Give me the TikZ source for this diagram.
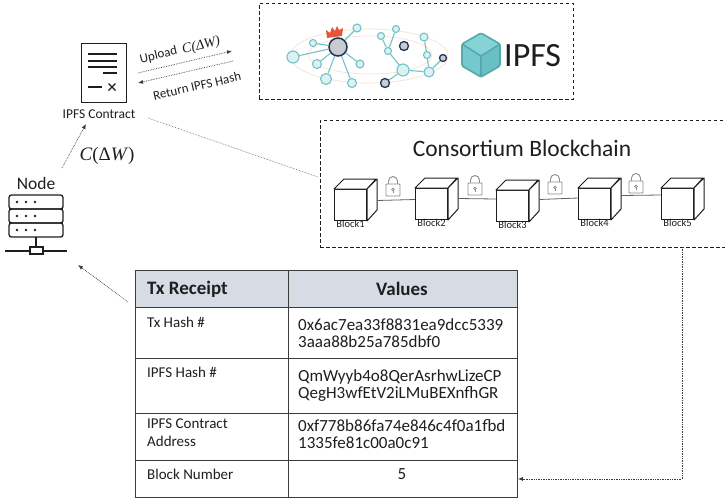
\documentclass[tikz,border=0pt]{standalone}
\usepackage{fontspec}
\setmainfont{Carlito}
\newfontfamily\cambria{Liberation Serif}
\usetikzlibrary{arrows.meta}

\definecolor{ink}{HTML}{1E1E1E}
\definecolor{flowgray}{HTML}{3A3A3A}
\definecolor{tealedge}{HTML}{6FC3C9}
\definecolor{tealfill}{HTML}{DDF0F2}
\definecolor{navy}{HTML}{1F3550}
\definecolor{slate}{HTML}{C8CBD2}
\definecolor{crownred}{HTML}{E2573B}
\definecolor{orbit}{HTML}{F6E4D6}
\definecolor{cubetop}{HTML}{86D3D6}
\definecolor{cubeleft}{HTML}{74C9CC}
\definecolor{cuberight}{HTML}{68C0C4}
\definecolor{cubeedge}{HTML}{55A9AD}
\definecolor{headfill}{HTML}{D6DBE4}
\definecolor{lockgray}{HTML}{8C8C8C}
\definecolor{gridline}{HTML}{3C3C3C}

\newcommand\hdfont{\fontsize{19}{20}\selectfont\bfseries}
\newcommand\keyfont{\fontsize{15}{16}\selectfont}
\newcommand\valfont{\fontsize{17}{18}\selectfont}
\newcommand\arrowfont{\fontsize{13}{13}\selectfont}
\newcommand\cdw{{\cambria\textit{C}(Δ\textit{W})}}

\begin{document}
\begin{tikzpicture}[x=1pt,y=-1pt,
  every node/.style={text=ink},
  dashbox/.style={draw=ink, line width=0.9pt, dash pattern=on 3.5pt off 2.5pt,
    anchor=north west, inner sep=0},
  flow/.style={draw=flowgray, densely dotted, line width=0.7pt,
    -{Latex[length=5pt,width=4pt]}},
  link/.style={draw=flowgray!80, densely dotted, line width=0.6pt},
  icon/.style={draw=ink, line width=1.3pt},
  cell/.style={draw=gridline, line width=0.9pt, anchor=north west, inner sep=0},
  txt/.style={anchor=base west, inner sep=0},
  tn/.style={circle, draw=tealedge, fill=tealfill, line width=1.1pt,
    inner sep=0, minimum size=#1},
  dn/.style={circle, draw=navy, fill=slate, line width=1.3pt,
    inner sep=0, minimum size=#1},
  tealline/.style={draw=tealedge, line width=1.1pt},
  blockbox/.style={draw=ink, fill=white, line width=1pt, anchor=north west,
    minimum width=32pt, minimum height=31pt, inner sep=0},
  cubeline/.style={draw=ink, line width=1pt, line join=round},
  chainline/.style={draw=ink!70, line width=0.8pt},
  blocklbl/.style={font=\fontsize{10.5}{11}\selectfont, inner sep=0},
  padlock/.pic={
    \draw[lockgray, line width=0.9pt, fill=white]
      (-4.5,-5) -- (-4.5,-8) arc[start angle=180, end angle=0, radius=4.5pt] -- (4.5,-5);
    \draw[lockgray, line width=0.9pt, fill=white, rounded corners=0.8pt]
      (-7,-5) rectangle (7,7);
    \draw[lockgray, line width=0.7pt] (0,0.5) circle[radius=1.3pt];
    \draw[lockgray, line width=0.7pt] (0,1.8) -- (0,3.5);
  }
]
\useasboundingbox (0,0) rectangle (725,499);
\clip (0,0) rectangle (725,499);

% ---------- IPFS storage panel ----------
\node (ipfsbox) [dashbox, minimum width=314pt, minimum height=96pt] at (259,3) {};

% orbits behind the peer network
\draw[orbit, line width=0.8pt] (369,56) ellipse [x radius=79, y radius=27];
\draw[orbit, line width=0.8pt] (370,55) ellipse [x radius=62, y radius=19];

% peers
\node[tn=12pt] (n1) at (293,57) {};
\node[tn=7pt]  (n2) at (313,43) {};
\node[tn=8pt]  (n3) at (357,28) {};
\node[tn=9pt]  (n4) at (317,64) {};
\node[tn=8pt]  (n5) at (360,64) {};
\node[tn=11pt] (n6) at (326,79) {};
\node[tn=9pt]  (n7) at (352,83) {};
\node[tn=7pt]  (m1) at (381,36) {};
\node[tn=7pt]  (m2) at (396,29) {};
\node[tn=7pt]  (m3) at (388,51) {};
\node[tn=8pt]  (m4) at (424,37) {};
\node[tn=7pt]  (m5) at (427,55) {};
\node[tn=12pt] (m6) at (403,70) {};
\node[tn=10pt] (m7) at (429,72) {};
\node[dn=9pt]  (d1) at (404,46) {};
\node[dn=7pt]  (d2) at (443,58) {};
\node[dn=9pt]  (d3) at (385,83) {};
\node[dn=18pt, line width=1.5pt] (hub) at (338,47) {};

\foreach \p in {n1,n2,n3,n4,n5,n6,n7} \draw[tealline] (hub) -- (\p);
\draw[tealline] (m1) -- (m3);
\draw[tealline] (m2) -- (m3);
\draw[tealline] (m3) -- (m6);
\draw[tealline] (m6) -- (d3);
\draw[tealline] (m6) -- (m7);
\draw[tealline] (m4) -- (m5);
\draw[tealline] (m5) -- (m7);
\draw[tealline] (m7) -- (d2);

% crown on the leading peer
\fill[crownred] (327,38) -- (326,30) -- (330,33) -- (332,27) -- (335,31)
  -- (337,26) -- (339,30) -- (343,28) -- (342,36) -- cycle;

% IPFS cube logo
\fill[cubetop]   (481,33) -- (500,44) -- (481,56) -- (462,44) -- cycle;
\fill[cubeleft]  (462,44) -- (481,56) -- (481,77) -- (462,66) -- cycle;
\fill[cuberight] (500,44) -- (481,56) -- (481,77) -- (500,66) -- cycle;
\draw[cubeedge, line width=1.6pt, line join=round, rounded corners=1.5pt]
  (481,33) -- (500,44) -- (500,66) -- (481,77) -- (462,66) -- (462,44) -- cycle;
\draw[cubeedge, line width=1.6pt, line join=round]
  (462,44) -- (481,56) -- (500,44) (481,56) -- (481,77);
\node (ipfstext) [anchor=west, inner sep=0, font=\fontsize{34}{34}\selectfont]
  at (504,56) {IPFS};

% ---------- IPFS contract ----------
\node (contract) [icon, minimum width=45pt, minimum height=59pt, inner sep=0,
  anchor=north west] at (81,43) {};
\draw[ink, line width=1.6pt] (88,54) -- (117,54) (88,61) -- (117,61)
  (88,67) -- (117,67) (103,73) -- (117,73) (88,87) -- (102,87);
\draw[ink, line width=1.4pt] (108.5,83.5) -- (115.5,90.5) (108.5,90.5) -- (115.5,83.5);
\node (contractlbl) [font=\fontsize{13.5}{14}\selectfont] at (99,114) {IPFS Contract};

% ---------- node (server) ----------
\node (nodelbl) [font=\fontsize{17.5}{18}\selectfont] at (36,183) {Node};
\node (server) [inner sep=0, minimum width=54pt, minimum height=59pt,
  anchor=north west] at (9,195) {};
\draw[icon, rounded corners=2.5pt] (9,195) rectangle (63,209);
\draw[icon, rounded corners=2.5pt] (9,209) rectangle (63,223);
\draw[icon, rounded corners=2.5pt] (9,223) rectangle (63,237);
\foreach \yy in {202,216,230} \foreach \xx in {17,26,35}
  \fill[ink] (\xx,\yy) circle[radius=1.3pt];
\draw[icon] (36,237) -- (36,247);
\draw[icon] (30,247) rectangle (43,254);
\draw[icon] (5,251) -- (30,251) (43,251) -- (67,251);

\node (cdwlbl) [font=\fontsize{19}{19}\selectfont] at (107,156) {\cdw};

% ---------- consortium blockchain ----------
\node (chainbox) [dashbox, minimum width=420pt, minimum height=127pt] at (320,120) {};
\node (chaintitle) [font=\fontsize{23.5}{24}\selectfont] at (522,148) {Consortium Blockchain};

\node (b1) [blockbox] at (334,189) {};
\node (b2) [blockbox] at (415,188) {};
\node (b3) [blockbox] at (496,190) {};
\node (b4) [blockbox] at (578,188) {};
\node (b5) [blockbox] at (661,188) {};
\foreach \b in {b1,b2,b3,b4,b5} {
  \draw[cubeline, fill=white] (\b.north west) -- ++(10,-10) -- ++(32,0)
    -- (\b.north east) -- cycle;
  \draw[cubeline, fill=white] (\b.north east) -- ++(10,-10) -- ++(0,31)
    -- (\b.south east) -- cycle;
}
\draw[chainline] ([shift={(10pt,4.5pt)}]b1.east) -- ([yshift=4.5pt]b2.west);
\draw[chainline] ([shift={(10pt,5.5pt)}]b2.east) -- ([yshift=7pt]b3.west);
\draw[chainline] ([shift={(10pt,6.5pt)}]b3.east) -- ([yshift=6pt]b4.west);
\draw[chainline] ([shift={(10pt,8.5pt)}]b4.east) -- ([yshift=9pt]b5.west);
\pic at (393,189) {padlock};
\pic at (475,188) {padlock};
\pic at (555,187) {padlock};
\pic at (636,186) {padlock};
\node (l1) [blocklbl] at ([yshift=-3pt]b1.south) {Block1};
\node (l2) [blocklbl] at ([yshift=-3pt]b2.south) {Block2};
\node (l3) [blocklbl] at ([yshift=-3pt]b3.south) {Block3};
\node (l4) [blocklbl] at ([yshift=-3pt]b4.south) {Block4};
\node (l5) [blocklbl] at ([yshift=-3pt]b5.south) {Block5};

% ---------- transaction receipt table ----------
\node (h1)  [cell, fill=headfill, minimum width=153pt, minimum height=37pt] at (135,270) {};
\node (h2)  [cell, fill=headfill, minimum width=229pt, minimum height=37pt] at (288,270) {};
\node (r1a) [cell, minimum width=153pt, minimum height=51pt] at (135,307) {};
\node (r1b) [cell, minimum width=229pt, minimum height=51pt] at (288,307) {};
\node (r2a) [cell, minimum width=153pt, minimum height=55pt] at (135,358) {};
\node (r2b) [cell, minimum width=229pt, minimum height=55pt] at (288,358) {};
\node (r3a) [cell, minimum width=153pt, minimum height=47pt] at (135,413) {};
\node (r3b) [cell, minimum width=229pt, minimum height=47pt] at (288,413) {};
\node (r4a) [cell, minimum width=153pt, minimum height=37pt] at (135,460) {};
\node (r4b) [cell, minimum width=229pt, minimum height=37pt] at (288,460) {};

\node (th1) [anchor=west, inner sep=0, font=\hdfont] at (147,289) {Tx Receipt};
\node (th2) [inner sep=0, font=\hdfont] at (402,289) {Values};

\node (k1)  [txt, font=\keyfont] at (147,327) {Tx Hash \#};
\node (k2)  [txt, font=\keyfont] at (147,377) {IPFS Hash \#};
\node (k3a) [txt, font=\keyfont] at (147,428) {IPFS Contract};
\node (k3b) [txt, font=\keyfont] at (147,446) {Address};
\node (k4)  [txt, font=\keyfont] at (147,479) {Block Number};

\node (v1a) [txt, font=\valfont] at (298,330) {0x6ac7ea33f8831ea9dcc5339};
\node (v1b) [txt, font=\valfont] at (298,347.5) {3aaa88b25a785dbf0};
\node (v2a) [txt, font=\valfont] at (298,381) {QmWyyb4o8QerAsrhwLizeCP};
\node (v2b) [txt, font=\valfont] at (298,398.5) {QegH3wfEtV2iLMuBEXnfhGR};
\node (v3a) [txt, font=\valfont] at (298,431) {0xf778b86fa74e846c4f0a1fbd};
\node (v3b) [txt, font=\valfont] at (298,448.5) {1335fe81c00a0c91};
\node (v4)  [anchor=base, inner sep=0, font=\valfont] at (402,479) {5};

% ---------- connectors ----------
\coordinate (upfrom) at (138,73);
\coordinate (upto) at (232,51);
\coordinate (retfrom) at (233,61);
\coordinate (retto) at (138,83);
\coordinate (nodeout) at (62,168);
\coordinate (contractin) at (86,124);
\coordinate (contractout) at (148,118);
\coordinate (chainin) at (318,177);
\coordinate (chainout) at (682,247);
\coordinate (tableout) at (128,302);
\coordinate (serverin) at (78,265);

\draw[flow] (upfrom) -- (upto);
\draw[flow] (retfrom) -- (retto);
\node (uplbl) [rotate=13, font=\arrowfont, inner sep=0] at (180,50.5)
  {Upload\hspace{2.5pt} {\fontsize{14}{14}\selectfont\cambria\itshape C(ΔW)}};
\node (retlbl) [rotate=13, font=\arrowfont, inner sep=0] at (197,86) {Return IPFS Hash};

\draw[flow] (nodeout) -- (contractin);
\draw[link] (contractout) -- (chainin);
\draw[flow] (chainout) |- (r4b.east);
\draw[flow] (tableout) -- (serverin);
\end{tikzpicture}
\end{document}
